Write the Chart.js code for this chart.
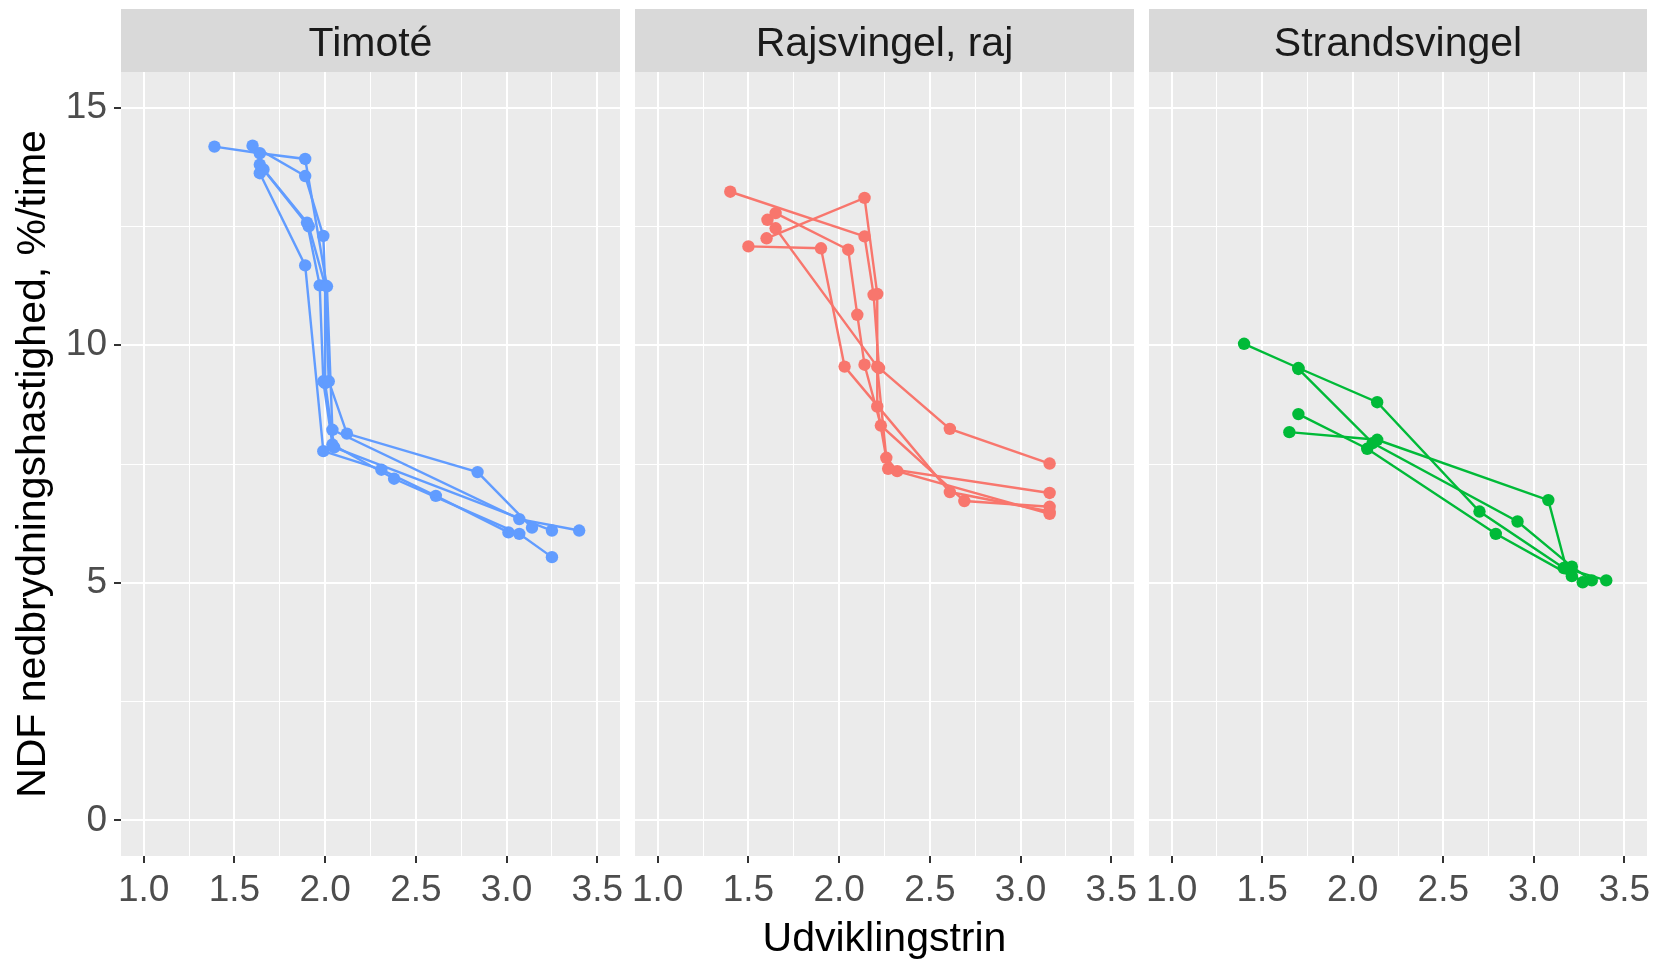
<!DOCTYPE html>
<html>
<head>
<meta charset="utf-8">
<script src="https://cdn.jsdelivr.net/npm/chart.js@4/dist/chart.umd.min.js"></script>
<style>
  html, body { margin: 0; padding: 0; background: #fff; }
  #wrap { position: relative; width: 1657px; height: 960px; }
  #wrap canvas { position: absolute; left: 0; top: 0; }
</style>
</head>
<body>
<div id="wrap">
  <canvas id="p1" width="1657" height="960"></canvas>
  <canvas id="p2" width="1657" height="960"></canvas>
  <canvas id="p3" width="1657" height="960"></canvas>
</div>
<script>
const panelTitles = ["Timoté", "Rajsvingel, raj", "Strandsvingel"];
const panelColors = ["#619CFF", "#F8766D", "#00BA38"];
const xTickLabels = [1.0, 1.5, 2.0, 2.5, 3.0, 3.5];
const yTickLabels = [0, 5, 10, 15];

// Timoté: udviklingstrin (x) and NDF nedbrydningshastighed (y), one row per series
const timoteStage = [
  [1.39, 1.64, 1.89, 2.01, 2.04, 3.07, 3.40],
  [1.60, 1.89, 1.99, 2.02, 2.12, 2.84, 3.14],
  [1.64, 1.90, 1.97, 1.99, 2.04, 2.38, 3.07, 3.25],
  [1.64, 1.89, 1.99, 2.31, 2.61, 3.01],
  [1.66, 1.91, 2.00, 2.00, 2.05, 3.25]
];
const timoteRate = [
  [14.18, 14.04, 13.92, 11.24, 8.22, 6.34, 6.10],
  [14.20, 13.56, 12.30, 9.24, 8.14, 7.33, 6.16],
  [13.80, 12.58, 11.26, 9.24, 7.91, 7.19, 6.03, 5.54],
  [13.62, 11.68, 7.77, 7.38, 6.83, 6.06],
  [13.70, 12.50, 11.26, 9.20, 7.85, 6.10]
];

// Rajsvingel, raj
const rajStage = [
  [1.40, 2.14, 2.19, 2.22, 2.61, 3.16],
  [1.50, 1.90, 2.03, 2.61, 3.16],
  [1.60, 2.14, 2.21, 2.21, 2.27, 3.16],
  [1.65, 2.05, 2.10, 2.14, 2.23, 2.69, 3.16],
  [1.605, 1.65, 2.21, 2.26, 2.32, 3.16]
];
const rajRate = [
  [13.23, 12.29, 11.06, 9.52, 8.24, 7.51],
  [12.08, 12.04, 9.55, 6.91, 6.50],
  [12.25, 13.10, 11.08, 8.71, 7.40, 6.89],
  [12.78, 12.01, 10.64, 9.59, 8.31, 6.72, 6.60],
  [12.64, 12.46, 9.55, 7.63, 7.35, 6.45]
];

// Strandsvingel
const strandStage = [
  [1.40, 1.70, 2.135, 2.70, 3.165, 3.27],
  [1.70, 2.11, 2.91, 3.21, 3.32],
  [1.70, 2.08, 2.79, 3.21],
  [1.65, 2.135, 3.08, 3.18, 3.40]
];
const strandRate = [
  [10.03, 9.52, 8.80, 6.50, 5.31, 5.01],
  [9.50, 7.94, 6.29, 5.34, 5.05],
  [8.55, 7.82, 6.03, 5.14],
  [8.17, 8.01, 6.74, 5.30, 5.05]
];

const FONT = '"Liberation Sans", Arial, sans-serif';

// gridlines: major breaks plus the midpoints between them (minor)
const withMinor = arr => arr.flatMap((v, i) => i ? [(v + arr[i - 1]) / 2, v] : [v]);
const xGrid = withMinor(xTickLabels);
const yGrid = withMinor(yTickLabels);
const isMajor = (v, list) => list.some(t => Math.abs(t - v) < 1e-9);

// grey panel background and the facet strip above it
const panelPlugin = {
  id: 'panel',
  beforeDraw(chart, args, opts) {
    const { ctx, chartArea: a } = chart;
    ctx.save();
    ctx.fillStyle = '#EBEBEB';
    ctx.fillRect(a.left, a.top, a.right - a.left, a.bottom - a.top);
    ctx.fillStyle = '#D9D9D9';
    ctx.fillRect(a.left, 9, a.right - a.left, a.top - 9);
    ctx.fillStyle = '#1A1A1A';
    ctx.font = '41px ' + FONT;
    ctx.textAlign = 'center';
    ctx.textBaseline = 'middle';
    ctx.fillText(opts.title, (a.left + a.right) / 2, (9 + a.top) / 2 + 4);
    ctx.restore();
  }
};

const panelBounds = [[121, 620], [635, 1134], [1149, 1647]];

function makeChart(id, idx, stages, rates) {
  const first = idx === 0;
  const datasets = stages.map((xs, s) => ({
    data: xs.map((x, i) => ({ x: x, y: rates[s][i] })),
    showLine: true,
    borderColor: panelColors[idx],
    backgroundColor: panelColors[idx],
    borderWidth: 2.4,
    pointRadius: 6.2,
    pointBorderWidth: 0,
    pointHoverRadius: 6.2
  }));

  new Chart(document.getElementById(id), {
    type: 'scatter',
    data: { datasets },
    plugins: [panelPlugin],
    options: {
      responsive: false,
      animation: false,
      devicePixelRatio: 1,
      events: [],
      layout: {
        padding: { left: first ? 0 : panelBounds[idx][0], right: 1657 - panelBounds[idx][1], top: 72, bottom: 0 }
      },
      plugins: {
        legend: { display: false },
        tooltip: { enabled: false },
        panel: { title: panelTitles[idx] }
      },
      scales: {
        x: {
          type: 'linear',
          min: 0.875,
          max: 3.625,
          afterBuildTicks: s => { s.ticks = xGrid.map(v => ({ value: v })); },
          afterFit: s => { s.height = 104; },
          border: { display: false },
          grid: {
            color: '#FFFFFF',
            lineWidth: c => (c.tick && isMajor(c.tick.value, xTickLabels)) ? 2 : 1,
            tickColor: c => (c.tick && isMajor(c.tick.value, xTickLabels)) ? '#333333' : 'rgba(0,0,0,0)',
            tickLength: 7,
            tickWidth: 2
          },
          ticks: {
            autoSkip: false,
            maxRotation: 0,
            padding: 6,
            color: '#4D4D4D',
            font: { family: FONT, size: 37 },
            callback: v => isMajor(v, xTickLabels) ? v.toFixed(1) : ''
          },
          title: {
            display: idx === 1,
            text: 'Udviklingstrin',
            color: '#000000',
            font: { family: FONT, size: 41, lineHeight: 1.0 },
            padding: { top: 0, bottom: 0 }
          }
        },
        y: {
          type: 'linear',
          min: -0.75,
          max: 15.75,
          afterBuildTicks: s => { s.ticks = yGrid.map(v => ({ value: v })); },
          afterFit: s => { s.width = first ? 121 : 0; },
          border: { display: false },
          grid: {
            color: '#FFFFFF',
            lineWidth: c => (c.tick && isMajor(c.tick.value, yTickLabels)) ? 2 : 1,
            tickColor: c => (c.tick && isMajor(c.tick.value, yTickLabels)) ? '#333333' : 'rgba(0,0,0,0)',
            drawTicks: first,
            tickLength: 7,
            tickWidth: 2
          },
          ticks: {
            display: first,
            autoSkip: false,
            padding: 7,
            color: '#4D4D4D',
            font: { family: FONT, size: 37 },
            callback: v => isMajor(v, yTickLabels) ? String(v) : ''
          },
          title: {
            display: first,
            text: 'NDF nedbrydningshastighed, %/time',
            color: '#000000',
            font: { family: FONT, size: 41, lineHeight: 1.2 },
            padding: { top: 9, bottom: 0 }
          }
        }
      }
    }
  });
}

makeChart('p1', 0, timoteStage, timoteRate);
makeChart('p2', 1, rajStage, rajRate);
makeChart('p3', 2, strandStage, strandRate);
</script>
</body>
</html>
